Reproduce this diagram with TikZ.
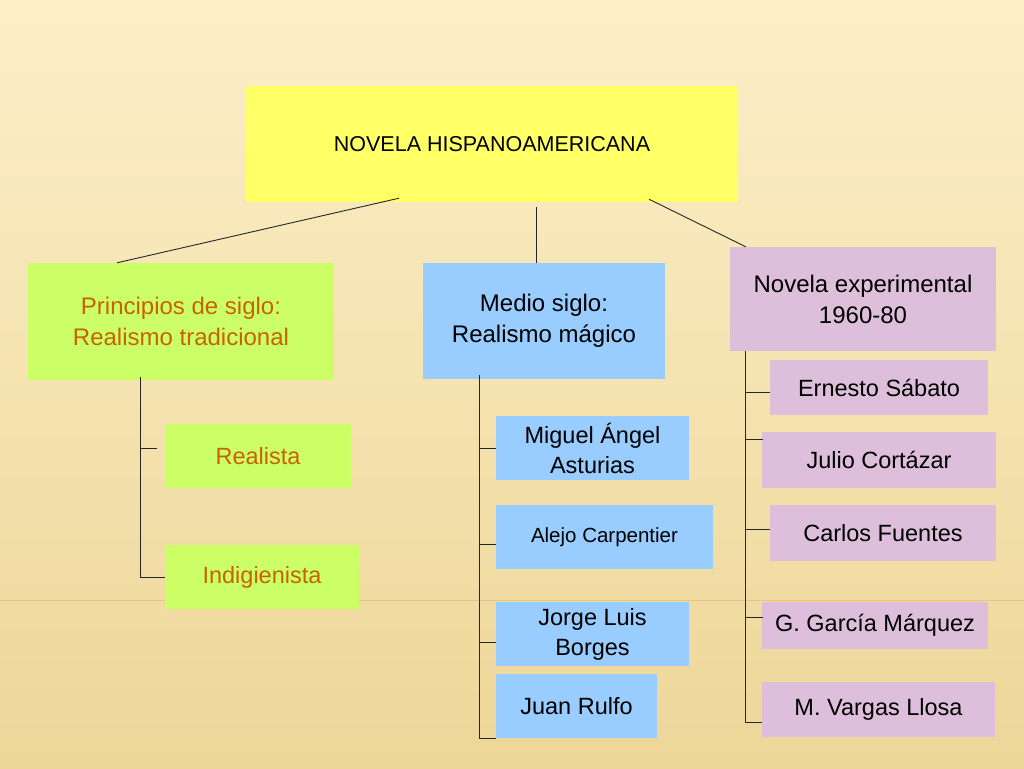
\documentclass[tikz,border=0pt]{standalone}
\usepackage{fontspec}
\setmainfont{Liberation Sans}
\usepackage{tikz}
\usetikzlibrary{calc}

\definecolor{fondoarriba}{RGB}{252,239,200}
\definecolor{fondoabajo}{RGB}{237,214,152}
\definecolor{amarillo}{RGB}{255,255,102}
\definecolor{verdeclaro}{RGB}{204,255,102}
\definecolor{azulclaro}{RGB}{153,204,255}
\definecolor{rosaclaro}{RGB}{221,191,219}
\definecolor{naranja}{RGB}{200,100,0}

\begin{document}
\begin{tikzpicture}[x=1pt,y=-1pt,
base/.style={rectangle,inner sep=0pt,align=center,text=black,font=\fontsize{23.5}{30}\selectfont},
raiz/.style={base,fill=amarillo,font=\fontsize{21.5}{26}\selectfont},
verde/.style={base,fill=verdeclaro,text=naranja},
azul/.style={base,fill=azulclaro},
rosa/.style={base,fill=rosaclaro},
grupo/.style={font=\fontsize{24}{31}\selectfont},
link/.style={draw=black!85,line width=0.9pt}]
\useasboundingbox (0,0) rectangle (1024,768);
\fill[top color=fondoarriba,bottom color=fondoabajo] (0,0) rectangle (1024,768);
\draw[naranja,opacity=.2,line width=0.8pt] (0,600) -- (1024,600);
\node[raiz,minimum width=492pt,minimum height=116pt] (novela) at (492,144)
{NOVELA HISPANOAMERICANA};
\node[verde,grupo,minimum width=306pt,minimum height=117pt] (principios) at (181,321.5)
{Principios de siglo:\\Realismo tradicional};
\node[azul,grupo,minimum width=242pt,minimum height=116pt] (medio) at (544,321)
{Medio siglo:\\Realismo mágico};
\node[rosa,grupo,minimum width=266pt,minimum height=104pt] (experimental) at (863,299)
{Novela experimental\\1960-80};
\node[verde,minimum width=186pt,minimum height=64pt] (realista) at (258,456) {Realista};
\node[verde,minimum width=194pt,minimum height=64pt] (indigienista) at (262,577) {Indigienista};
\node[azul,minimum width=193pt,minimum height=64pt] (asturias) at (592.5,448) {Miguel Ángel\\Asturias};
\node[azul,font=\fontsize{20.5}{26}\selectfont,minimum width=217pt,minimum height=64pt] (carpentier) at (604.5,537) {Alejo Carpentier};
\node[azul,minimum width=193pt,minimum height=64pt] (borges) at (592.5,634) {Jorge Luis\\Borges};
\node[azul,minimum width=161pt,minimum height=64pt] (rulfo) at (576.5,706) {Juan Rulfo};
\node[rosa,minimum width=218pt,minimum height=55pt] (sabato) at (879,387.5) {Ernesto Sábato};
\node[rosa,minimum width=234pt,minimum height=56pt] (cortazar) at (879,460) {Julio Cortázar};
\node[rosa,minimum width=226pt,minimum height=56pt] (fuentes) at (883,533) {Carlos Fuentes};
\node[rosa,minimum width=226pt,minimum height=47pt] (garcia) at (875,625.5) {G. García Márquez};
\node[rosa,minimum width=233pt,minimum height=55pt] (vargas) at (878.5,709.5) {M. Vargas Llosa};
% ramas principales
\draw[link] ([xshift=-93pt,yshift=4pt]novela.south) -- ([xshift=-64pt]principios.north);
\draw[link] ([xshift=44pt,yshift=-5pt]novela.south) -- ([xshift=44pt]novela.south |- medio.north);
\draw[link] ([xshift=157pt,yshift=3pt]novela.south) -- ([xshift=16pt]experimental.north west);
% realismo tradicional
\coordinate (ltronco) at ([xshift=113pt,yshift=3pt]principios.south west);
\draw[link] (ltronco) |- (indigienista.west);
\draw[link] (ltronco |- realista.west) ++(0,-8) -- ++(16,0);
% realismo magico
\coordinate (mtronco) at ([xshift=57pt,yshift=4pt]medio.south west);
\draw[link] (mtronco) |- (rulfo.south west);
\draw[link] (mtronco |- asturias.west) -- (asturias.west);
\draw[link] (mtronco |- carpentier.west) ++(0,7) -- ++(16,0);
\draw[link] (mtronco |- borges.west) ++(0,8) -- ++(16,0);
% novela experimental
\coordinate (rtronco) at ([xshift=16pt]experimental.south west);
\draw[link] (rtronco) |- ([yshift=-12.5pt]vargas.west);
\draw[link] (rtronco |- sabato.west) ++(0,4.5) -- ++(24,0);
\draw[link] (rtronco |- cortazar.west) ++(0,-21) -- ++(17,0);
\draw[link] (rtronco |- fuentes.west) ++(0,-4) -- ++(24,0);
\draw[link] (rtronco |- garcia.west) ++(0,-8.5) -- ++(17,0);
\end{tikzpicture}
\end{document}
